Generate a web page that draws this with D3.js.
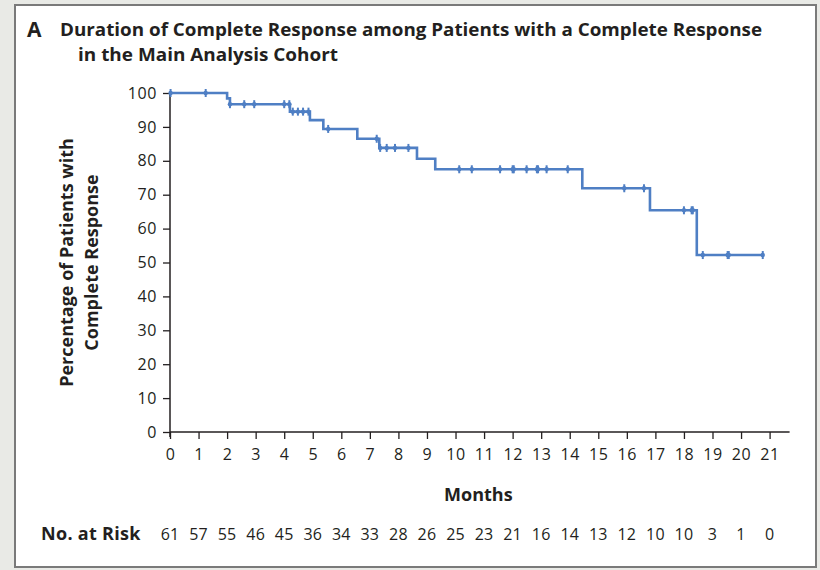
<!DOCTYPE html>
<html>
<head>
<meta charset="utf-8">
<script src="https://cdn.jsdelivr.net/npm/d3@7"></script>
<style>
  html, body { margin: 0; padding: 0; background: #e9eae6; }
  svg { display: block; }
  text { font-family: "Open Sans", "Liberation Sans", sans-serif; fill: #231f20; }
</style>
</head>
<body>
<div id="chart"></div>
<script>
// Kaplan-Meier estimate: duration of complete response
const stepTimes  = [0, 2.0, 2.1, 4.2, 4.9, 5.37, 6.56, 7.33, 8.65, 9.29, 14.44, 16.81, 18.45];
const stepValues = [100, 98.4, 96.7, 94.5, 92.0, 89.4, 86.5, 83.8, 80.6, 77.5, 71.9, 65.4, 52.2];
const lastFollowUp = 20.76;

// censored observations (months)
const censorTimes = [0.02, 1.25, 2.1, 2.6, 2.95, 4.0, 4.18, 4.3, 4.48, 4.66, 4.85, 5.54,
  7.24, 7.36, 7.59, 7.88, 8.35, 10.13, 10.57, 11.56, 12.0, 12.04, 12.49, 12.85, 12.89,
  13.19, 13.93, 15.91, 16.6, 18.0, 18.27, 18.31, 18.66, 19.53, 19.57, 20.76];

// axis ticks and risk table
const monthTicks = d3.range(0, 22);
const percentTicks = d3.range(0, 101, 10);
const atRisk = [61, 57, 55, 46, 45, 36, 34, 33, 28, 26, 25, 23, 21, 16, 14, 13, 12, 10, 10, 3, 1, 0];

const titleLines = ["Duration of Complete Response among Patients with a Complete Response",
                    "in the Main Analysis Cohort"];
const yTitleLines = ["Percentage of Patients with", "Complete Response"];

const W = 820, H = 570;
const svg = d3.select("#chart").append("svg").attr("width", W).attr("height", H);

// panel frame
svg.append("rect").attr("x", 15).attr("y", 5).attr("width", 801).attr("height", 562)
  .attr("fill", "#ffffff").attr("stroke", "#7a7a7a").attr("stroke-width", 2);

// title
svg.append("text").attr("x", 27).attr("y", 37).attr("font-size", 21).attr("font-weight", "bold")
  .text("A");
svg.append("text").attr("x", 60).attr("y", 36).attr("font-size", 18.5).attr("font-weight", "bold")
  .attr("textLength", 702).attr("lengthAdjust", "spacingAndGlyphs").text(titleLines[0]);
svg.append("text").attr("x", 78).attr("y", 61).attr("font-size", 18.5).attr("font-weight", "bold")
  .attr("textLength", 260).attr("lengthAdjust", "spacingAndGlyphs").text(titleLines[1]);

const x = d3.scaleLinear().domain([0, 21]).range([170, 769.6]);
const y = d3.scaleLinear().domain([0, 100]).range([432, 93]);

const axisColor = "#231f20";

// y axis
const gy = svg.append("g").attr("transform", `translate(${x(0)},0)`)
  .call(d3.axisLeft(y).tickValues(percentTicks).tickSize(7).tickPadding(6).tickSizeOuter(0));
gy.select(".domain").remove();
gy.selectAll(".tick line").attr("stroke", axisColor).attr("stroke-width", 1.3);
gy.selectAll(".tick text").attr("font-size", 16).attr("letter-spacing", 0.6)
  .attr("font-family", null).attr("fill", "#1f1b1c");
svg.append("line").attr("x1", x(0)).attr("x2", x(0)).attr("y1", y(100)).attr("y2", y(0) + 5)
  .attr("stroke", axisColor).attr("stroke-width", 1.5);

// x axis
const gx = svg.append("g").attr("transform", `translate(0,${y(0)})`)
  .call(d3.axisBottom(x).tickValues(monthTicks).tickSize(7).tickPadding(10).tickSizeOuter(0));
gx.select(".domain").remove();
gx.selectAll(".tick line").attr("stroke", axisColor).attr("stroke-width", 1.3);
gx.selectAll(".tick text").attr("font-size", 16).attr("letter-spacing", 0.6)
  .attr("font-family", null).attr("fill", "#1f1b1c");
svg.append("line").attr("x1", x(0)).attr("x2", x(21.7)).attr("y1", y(0)).attr("y2", y(0))
  .attr("stroke", axisColor).attr("stroke-width", 1.5);

// axis titles
const yt = svg.append("text").attr("transform", `translate(0,${(y(0) + y(100)) / 2}) rotate(-90)`)
  .attr("text-anchor", "middle").attr("font-size", 18).attr("font-weight", "bold");
yt.append("tspan").attr("x", 0).attr("y", 73).text(yTitleLines[0]);
yt.append("tspan").attr("x", 0).attr("y", 98).text(yTitleLines[1]);

svg.append("text").attr("x", x(10.8)).attr("y", 501).attr("text-anchor", "middle")
  .attr("font-size", 18).attr("font-weight", "bold").text("Months");

// risk table
svg.append("text").attr("x", 41).attr("y", 540).attr("font-size", 18).attr("font-weight", "bold")
  .attr("letter-spacing", 0.3).text("No. at Risk");
svg.append("g").selectAll("text").data(atRisk).join("text")
  .attr("x", (d, i) => x(monthTicks[i])).attr("y", 540).attr("text-anchor", "middle")
  .attr("font-size", 16).attr("letter-spacing", 0.2).attr("fill", "#1f1b1c").text(d => d);

// survival curve
const curvePts = stepTimes.map((t, i) => [t, stepValues[i]]);
curvePts.push([lastFollowUp, stepValues[stepValues.length - 1]]);
const lineColor = "#4f7fc4";
svg.append("path").datum(curvePts)
  .attr("d", d3.line().x(d => x(d[0])).y(d => y(d[1])).curve(d3.curveStepAfter))
  .attr("fill", "none").attr("stroke", lineColor).attr("stroke-width", 2.6)
  .attr("stroke-linejoin", "miter");

function valueAt(t) {
  let v = stepValues[0];
  for (let i = 0; i < stepTimes.length; i++) if (stepTimes[i] <= t) v = stepValues[i];
  return v;
}

// censor marks
const cm = svg.append("g").selectAll("g").data(censorTimes).join("g")
  .attr("transform", d => `translate(${x(d)},${y(valueAt(d))})`);
cm.append("line").attr("y1", -4).attr("y2", 4).attr("stroke", lineColor).attr("stroke-width", 2);
cm.append("circle").attr("r", 2.2).attr("fill", lineColor);
</script>
</body>
</html>
